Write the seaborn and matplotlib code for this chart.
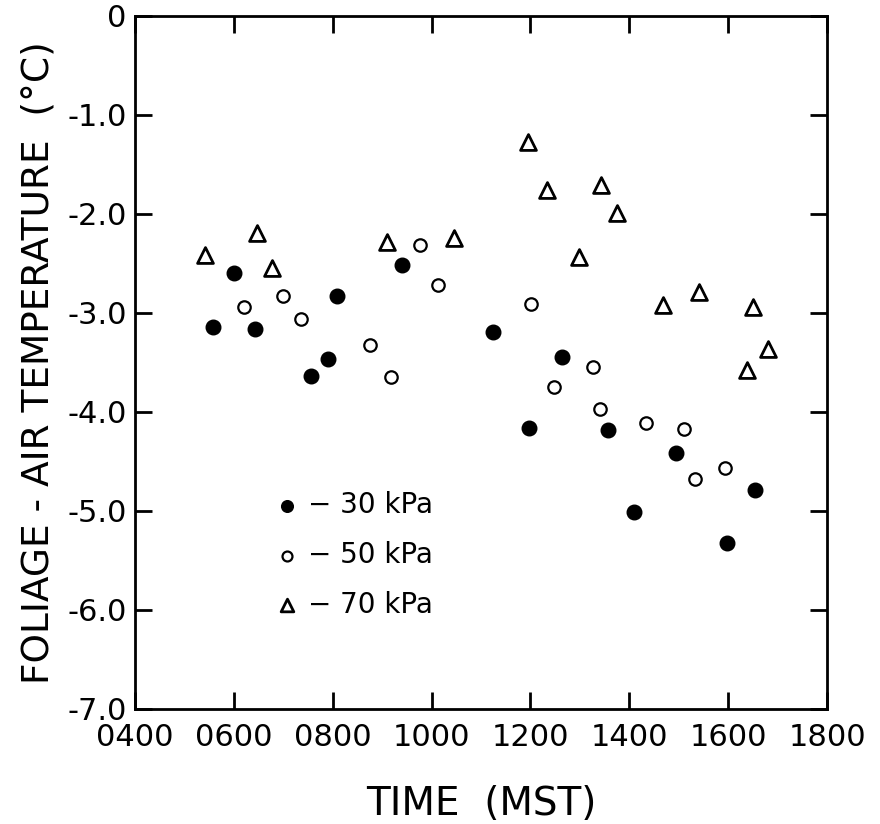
import pandas as pd
import matplotlib
matplotlib.use('Agg')
import matplotlib.pyplot as plt
import seaborn as sns

# time of day in hundreds (e.g. 1200 = noon), foliage - air temperature (C)
time_30 = [601, 808, 940, 557, 643, 756, 791, 1124, 1264, 1198, 1356, 1494, 1410, 1655, 1598]
temp_30 = [-2.60, -2.83, -2.52, -3.14, -3.16, -3.64, -3.46, -3.19, -3.44, -4.16, -4.18, -4.41, -5.01, -4.79, -5.32]

time_50 = [621, 699, 736, 876, 918, 1012, 976, 1202, 1326, 1247, 1340, 1434, 1511, 1594, 1532]
temp_50 = [-2.94, -2.83, -3.06, -3.32, -3.65, -2.72, -2.31, -2.91, -3.55, -3.75, -3.97, -4.11, -4.17, -4.57, -4.68]

time_70 = [542, 646, 677, 909, 1046, 1196, 1233, 1343, 1375, 1299, 1469, 1540, 1650, 1680, 1638]
temp_70 = [-2.41, -2.19, -2.55, -2.28, -2.24, -1.27, -1.76, -1.71, -1.99, -2.43, -2.92, -2.79, -2.94, -3.36, -3.58]

labels = ['\u2212 30 kPa', '\u2212 50 kPa', '\u2212 70 kPa']
x_ticks = [400, 600, 800, 1000, 1200, 1400, 1600, 1800]
x_ticklabels = ['0400', '0600', '0800', '1000', '1200', '1400', '1600', '1800']
y_ticks = [0, -1, -2, -3, -4, -5, -6, -7]
y_ticklabels = ['0', '-1.0', '-2.0', '-3.0', '-4.0', '-5.0', '-6.0', '-7.0']

df = pd.concat([
    pd.DataFrame({'time': time_30, 'temp': temp_30, 'psi': labels[0]}),
    pd.DataFrame({'time': time_50, 'temp': temp_50, 'psi': labels[1]}),
    pd.DataFrame({'time': time_70, 'temp': temp_70, 'psi': labels[2]}),
])

sns.set_style('ticks')
plt.rcParams['font.family'] = ['DejaVu Sans']
plt.rcParams['text.color'] = 'black'
plt.rcParams['axes.labelcolor'] = 'black'
plt.rcParams['xtick.color'] = 'black'
plt.rcParams['ytick.color'] = 'black'
plt.rcParams['axes.edgecolor'] = 'black'

fig = plt.figure(figsize=(8.8, 8.24), dpi=100)
ax = fig.add_axes([0.1534, 0.1396, 0.7864, 0.841])

styles = {
    labels[0]: dict(marker='o', s=110, facecolor='black', edgecolor='black', linewidth=1.0),
    labels[1]: dict(marker='o', s=80, facecolor='white', edgecolor='black', linewidth=1.6),
    labels[2]: dict(marker='^', s=130, facecolor='white', edgecolor='black', linewidth=2.0),
}
for lab in labels:
    sub = df[df['psi'] == lab]
    sns.scatterplot(data=sub, x='time', y='temp', ax=ax, label=lab, **styles[lab])

ax.set_xlim(400, 1800)
ax.set_ylim(-7, 0)
ax.set_xticks(x_ticks)
ax.set_xticklabels(x_ticklabels)
ax.set_yticks(y_ticks)
ax.set_yticklabels(y_ticklabels)
ax.tick_params(direction='in', length=12, width=2, labelsize=22, top=True, right=True)
ax.tick_params(axis='x', pad=10)
ax.tick_params(axis='y', pad=6)
for sp in ax.spines.values():
    sp.set_linewidth(2)
    sp.set_visible(True)

ax.set_xlabel('TIME  (MST)', fontsize=28, labelpad=24)
ax.set_ylabel('FOLIAGE - AIR TEMPERATURE  (\u00b0C)', fontsize=27, labelpad=8)

leg = ax.legend(frameon=False, loc='upper left', bbox_to_anchor=(0.16, 0.35),
                fontsize=20, labelspacing=0.78, handletextpad=0.15, handlelength=1.2,
                markerscale=0.8)

plt.savefig('out.png', dpi=100)
plt.close()
